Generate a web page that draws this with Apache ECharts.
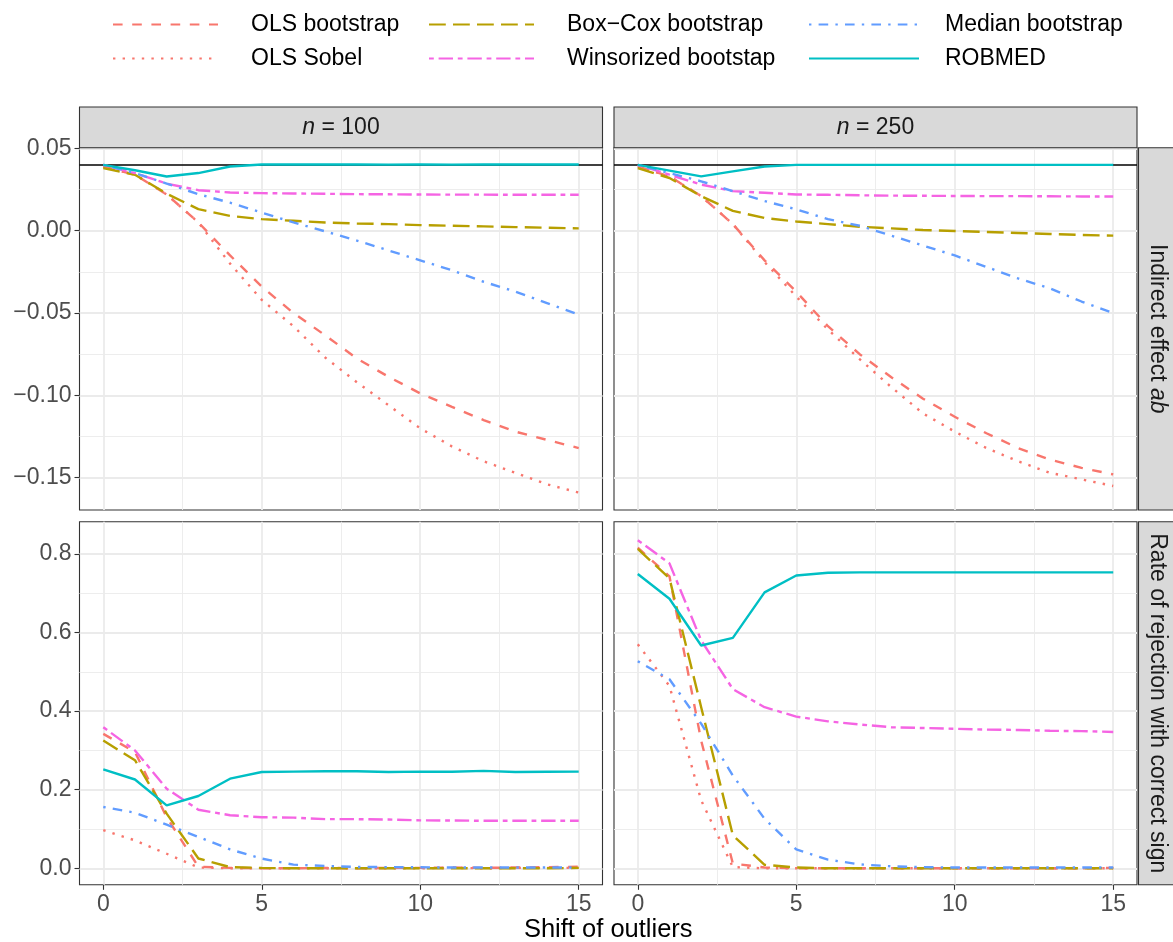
<!DOCTYPE html>
<html>
<head>
<meta charset="utf-8">
<script src="https://cdn.jsdelivr.net/npm/echarts@6/dist/echarts.min.js"></script>
<style>
html, body { margin: 0; background: #fff; }
#main { width: 1173px; height: 942px; }
</style>
</head>
<body>
<div id="main"></div>
<script>
// shift of outliers
var shifts = [0, 1, 2, 3, 4, 5, 6, 7, 8, 9, 10, 11, 12, 13, 14, 15];
var methods = ['OLS bootstrap', 'OLS Sobel', 'Box\u2212Cox bootstrap', 'Winsorized bootstap', 'Median bootstrap', 'ROBMED'];
var trueEffect = 0.04;

// indirect effect ab, n = 100
var ind100OlsBoot  = [0.039, 0.034, 0.022, 0.005, -0.015, -0.034, -0.050, -0.0635, -0.0776, -0.0887, -0.0988, -0.107, -0.115, -0.122, -0.127, -0.132];
var ind100OlsSobel = [0.039, 0.034, 0.022, 0.005, -0.020, -0.042, -0.058, -0.077, -0.092, -0.106, -0.120, -0.131, -0.140, -0.147, -0.154, -0.159];
var ind100BoxCox   = [0.038, 0.034, 0.0225, 0.0131, 0.009, 0.007, 0.006, 0.005, 0.0044, 0.004, 0.0034, 0.003, 0.0026, 0.0022, 0.0018, 0.0014];
var ind100Winsor   = [0.040, 0.035, 0.0286, 0.0246, 0.0232, 0.0228, 0.0226, 0.0224, 0.0222, 0.0221, 0.022, 0.0219, 0.0219, 0.0218, 0.0218, 0.0218];
var ind100Median   = [0.040, 0.035, 0.0286, 0.0222, 0.017, 0.011, 0.005, -0.0004, -0.006, -0.012, -0.018, -0.024, -0.031, -0.037, -0.044, -0.051];
var ind100Robmed   = [0.040, 0.0367, 0.0329, 0.035, 0.039, 0.0402, 0.0402, 0.0402, 0.0402, 0.0401, 0.0402, 0.0401, 0.0402, 0.0402, 0.0402, 0.0402];

// indirect effect ab, n = 250
var ind250OlsBoot  = [0.039, 0.033, 0.021, 0.004, -0.018, -0.037, -0.058, -0.075, -0.089, -0.102, -0.113, -0.123, -0.132, -0.139, -0.144, -0.148];
var ind250OlsSobel = [0.039, 0.033, 0.021, 0.004, -0.019, -0.040, -0.060, -0.078, -0.095, -0.111, -0.122, -0.132, -0.140, -0.147, -0.151, -0.155];
var ind250BoxCox   = [0.038, 0.032, 0.021, 0.012, 0.0077, 0.0056, 0.004, 0.0024, 0.0014, 0.0004, -0.0002, -0.0008, -0.0014, -0.002, -0.0026, -0.003];
var ind250Winsor   = [0.040, 0.034, 0.028, 0.024, 0.023, 0.022, 0.0218, 0.0215, 0.0213, 0.0212, 0.0211, 0.021, 0.021, 0.0209, 0.0208, 0.0208];
var ind250Median   = [0.040, 0.035, 0.030, 0.024, 0.018, 0.013, 0.007, 0.003, -0.003, -0.009, -0.015, -0.022, -0.029, -0.035, -0.043, -0.050];
var ind250Robmed   = [0.040, 0.0365, 0.033, 0.036, 0.039, 0.040, 0.040, 0.040, 0.040, 0.040, 0.040, 0.040, 0.040, 0.040, 0.040, 0.040];

// rate of rejection with correct sign, n = 100
var rej100OlsBoot  = [0.342, 0.296, 0.13, 0.004, 0.001, 0, 0, 0.001, 0, 0.001, 0.001, 0.002, 0.001, 0.002, 0.003, 0.004];
var rej100OlsSobel = [0.097, 0.071, 0.037, 0.002, 0, 0, 0, 0, 0, 0, 0, 0.001, 0, 0.001, 0.001, 0.001];
var rej100BoxCox   = [0.325, 0.275, 0.139, 0.025, 0.003, 0.001, 0, 0, 0, 0, 0, 0, 0, 0, 0, 0.001];
var rej100Winsor   = [0.359, 0.300, 0.2025, 0.149, 0.135, 0.130, 0.129, 0.125, 0.125, 0.124, 0.122, 0.1215, 0.121, 0.121, 0.121, 0.121];
var rej100Median   = [0.156, 0.1415, 0.111, 0.080, 0.048, 0.0246, 0.0093, 0.006, 0.0034, 0.003, 0.0025, 0.002, 0.002, 0.002, 0.002, 0.002];
var rej100Robmed   = [0.252, 0.226, 0.160, 0.184, 0.228, 0.245, 0.246, 0.247, 0.247, 0.245, 0.246, 0.2455, 0.248, 0.245, 0.2455, 0.246];

// rate of rejection with correct sign, n = 250
var rej250OlsBoot  = [0.816, 0.743, 0.325, 0.012, 0.002, 0, 0, 0, 0, 0, 0, 0, 0, 0, 0, 0.001];
var rej250OlsSobel = [0.570, 0.464, 0.173, 0.003, 0, 0, 0, 0, 0, 0, 0, 0, 0, 0, 0, 0];
var rej250BoxCox   = [0.813, 0.738, 0.41, 0.084, 0.009, 0.002, 0, 0, 0, 0, 0, 0, 0, 0, 0, 0];
var rej250Winsor   = [0.835, 0.776, 0.58, 0.456, 0.41, 0.386, 0.374, 0.366, 0.359, 0.357, 0.355, 0.353, 0.352, 0.350, 0.349, 0.347];
var rej250Median   = [0.527, 0.481, 0.368, 0.236, 0.126, 0.048, 0.022, 0.010, 0.005, 0.003, 0.002, 0.002, 0.002, 0.002, 0.002, 0.002];
var rej250Robmed   = [0.749, 0.686, 0.567, 0.5865, 0.702, 0.745, 0.752, 0.753, 0.753, 0.753, 0.753, 0.753, 0.753, 0.753, 0.753, 0.753];

// tick labels
var xTicks = [0, 5, 10, 15];
var xMinor = [2.5, 7.5, 12.5];
var yTicksTop = [-0.15, -0.10, -0.05, 0.00, 0.05];
var yMinorTop = [-0.125, -0.075, -0.025, 0.025];
var yTicksBottom = [0.0, 0.2, 0.4, 0.6, 0.8];
var yMinorBottom = [0.1, 0.3, 0.5, 0.7];

// styles (ggplot hue colours, R linetypes scaled by line width)
var colors = ['#F8766D', '#F8766D', '#B79F00', '#F564E3', '#619CFF', '#00BFC4'];
var lw = 2.4;
var dashes = [
    [4 * lw, 4 * lw],          // dashed
    [1 * lw, 3 * lw],          // dotted
    [7 * lw, 3 * lw],          // longdash
    [2 * lw, 2 * lw, 6 * lw, 2 * lw], // twodash
    [1 * lw, 3 * lw, 4 * lw, 3 * lw], // dotdash
    'solid'
];
var font = 'Liberation Sans, Arial, Helvetica, sans-serif';

// layout of the facet panels
var colLeft = [79.5, 614];
var panelW = 523;
var rowTop = [147.7, 521.7];
var panelH = [362.3, 363.1];
var xRange = [-0.75, 15.75];
var yRange = [[-0.1696, 0.0504], [-0.042, 0.882]];

var panels = [
    { row: 0, col: 0, n: 100, vals: [ind100OlsBoot, ind100OlsSobel, ind100BoxCox, ind100Winsor, ind100Median, ind100Robmed] },
    { row: 0, col: 1, n: 250, vals: [ind250OlsBoot, ind250OlsSobel, ind250BoxCox, ind250Winsor, ind250Median, ind250Robmed] },
    { row: 1, col: 0, n: 100, vals: [rej100OlsBoot, rej100OlsSobel, rej100BoxCox, rej100Winsor, rej100Median, rej100Robmed] },
    { row: 1, col: 1, n: 250, vals: [rej250OlsBoot, rej250OlsSobel, rej250BoxCox, rej250Winsor, rej250Median, rej250Robmed] }
];

function fmt(v, d) {
    return v.toFixed(d).replace('-', '\u2212');
}

var grids = [], xAxes = [], yAxes = [], series = [];
var tickStyle = { color: '#333333', width: 1.1 };
var majorGrid = { color: '#EBEBEB', width: 1.8 };
var minorGrid = { color: '#EBEBEB', width: 0.9 };

panels.forEach(function (p, g) {
    grids.push({
        left: colLeft[p.col], top: rowTop[p.row], width: panelW, height: panelH[p.row],
        show: true, borderColor: '#333333', borderWidth: 1.1, backgroundColor: '#fff',
        outerBoundsMode: 'none'
    });
    var bottomRow = p.row === 1, leftCol = p.col === 0;
    var yt = p.row === 0 ? yTicksTop : yTicksBottom;
    var ym = p.row === 0 ? yMinorTop : yMinorBottom;
    var dec = p.row === 0 ? 2 : 1;
    // major x
    xAxes.push({
        type: 'value', gridIndex: g, min: xRange[0], max: xRange[1],
        axisLine: { show: false, onZero: false },
        axisTick: { show: bottomRow, customValues: xTicks, length: 5, lineStyle: tickStyle },
        axisLabel: { show: bottomRow, customValues: xTicks, color: '#4D4D4D', fontSize: 23, fontFamily: font, margin: 8 },
        splitLine: { show: true, lineStyle: majorGrid }
    });
    // minor x
    xAxes.push({
        type: 'value', gridIndex: g, min: xRange[0], max: xRange[1],
        axisLine: { show: false, onZero: false },
        axisTick: { show: false, customValues: xMinor },
        axisLabel: { show: false },
        splitLine: { show: true, lineStyle: minorGrid }
    });
    // major y
    yAxes.push({
        type: 'value', gridIndex: g, min: yRange[p.row][0], max: yRange[p.row][1],
        axisLine: { show: false, onZero: false },
        axisTick: { show: leftCol, customValues: yt, length: 5, lineStyle: tickStyle },
        axisLabel: {
            show: leftCol, customValues: yt, color: '#4D4D4D', fontSize: 23, fontFamily: font, margin: 8,
            formatter: function (v) { return fmt(v, dec); }
        },
        splitLine: { show: true, lineStyle: majorGrid }
    });
    // minor y
    yAxes.push({
        type: 'value', gridIndex: g, min: yRange[p.row][0], max: yRange[p.row][1],
        axisLine: { show: false, onZero: false },
        axisTick: { show: false, customValues: ym },
        axisLabel: { show: false },
        splitLine: { show: true, lineStyle: minorGrid }
    });

    methods.forEach(function (m, i) {
        var s = {
            type: 'line', name: m,
            xAxisIndex: 2 * g, yAxisIndex: 2 * g,
            data: shifts.map(function (x, k) { return [x, p.vals[i][k]]; }),
            symbol: 'none', silent: true, z: 3 + i,
            lineStyle: { color: colors[i], width: lw, type: dashes[i] },
            itemStyle: { color: colors[i] }
        };
        if (i === 0 && p.row === 0) {
            s.markLine = {
                silent: true, symbol: ['none', 'none'], label: { show: false },
                lineStyle: { color: '#000', width: 1.5, type: 'solid' },
                data: [{ yAxis: trueEffect }]
            };
        }
        series.push(s);
    });
});

function legendCol(left, names, keyW, pad) {
    return {
        orient: 'vertical', left: left, top: 13, padding: 0,
        itemWidth: keyW, itemHeight: 14, itemGap: 11,
        selectedMode: false, data: names,
        itemStyle: { opacity: 0 },
        textStyle: { fontSize: 23, color: '#000', fontFamily: font, padding: [0, 0, 0, pad] }
    };
}

var graphics = [];
// top strips
[0, 1].forEach(function (c) {
    graphics.push({
        type: 'rect', z: 10,
        shape: { x: colLeft[c], y: 107, width: panelW, height: rowTop[0] - 107 },
        style: { fill: '#D9D9D9', stroke: '#333333', lineWidth: 1.1 }
    });
    graphics.push({
        type: 'text', z: 11, x: colLeft[c] + panelW / 2, y: (107 + rowTop[0]) / 2,
        style: {
            text: '{i|n} = ' + panels[c].n, fontSize: 23, fontFamily: font, fill: '#1A1A1A',
            align: 'center', verticalAlign: 'middle',
            rich: { i: { fontStyle: 'italic', fontSize: 23, fontFamily: font, fill: '#1A1A1A' } }
        }
    });
});
// right strips
var rowLabels = ['Indirect effect {i|ab}', 'Rate of rejection with correct sign'];
[0, 1].forEach(function (r) {
    graphics.push({
        type: 'rect', z: 10,
        shape: { x: 1138.5, y: rowTop[r], width: 44, height: panelH[r] },
        style: { fill: '#D9D9D9', stroke: '#333333', lineWidth: 1.1 }
    });
    graphics.push({
        type: 'text', z: 11, x: 1157, y: rowTop[r] + panelH[r] / 2, rotation: -Math.PI / 2,
        style: {
            text: rowLabels[r], fontSize: 23, fontFamily: font, fill: '#1A1A1A',
            align: 'center', verticalAlign: 'middle',
            rich: { i: { fontStyle: 'italic', fontSize: 23, fontFamily: font, fill: '#1A1A1A' } }
        }
    });
});
// x axis title
graphics.push({
    type: 'text', x: colLeft[0] + (colLeft[1] + panelW - colLeft[0]) / 2, y: 930,
    style: { text: 'Shift of outliers', fontSize: 25.5, fontFamily: font, fill: '#000', align: 'center', verticalAlign: 'middle' }
});

var chart = echarts.init(document.getElementById('main'));
chart.setOption({
    backgroundColor: '#fff',
    animation: false,
    legend: [
        legendCol(112, [methods[0], methods[1]], 105, 28),
        legendCol(428, [methods[2], methods[3]], 105, 28),
        legendCol(808, [methods[4], methods[5]], 110, 21)
    ],
    grid: grids,
    xAxis: xAxes,
    yAxis: yAxes,
    series: series,
    graphic: graphics
});
</script>
</body>
</html>
